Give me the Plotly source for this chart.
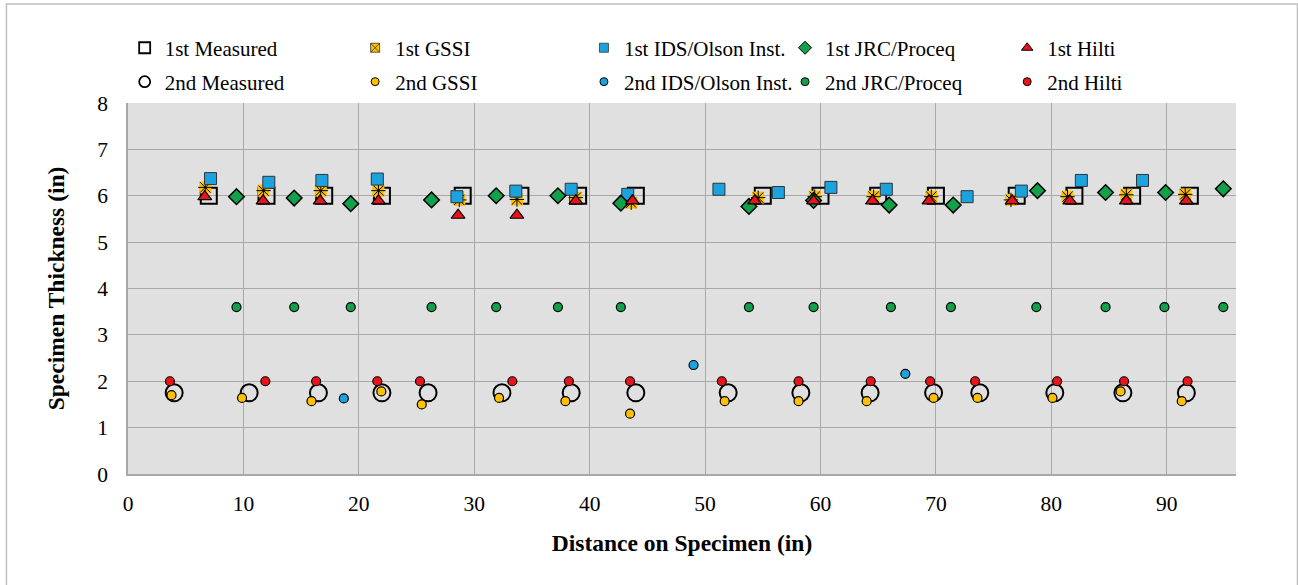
import plotly.graph_objects as go

# 1st pass readings (~6 in) and 2nd pass readings (~1.75 in)
m1_x = [7, 12, 17, 22, 29, 34, 39, 44, 55, 60, 65, 70, 77, 82, 87, 92]
m1_y = [6.0] * 16
m2_x = [4, 10.5, 16.5, 22, 26, 32.4, 38.4, 44, 52, 58.3, 64.3, 69.8, 73.8, 80.3, 86.2, 91.7]
m2_y = [1.75] * 16

g1_x = [6.7, 11.75, 16.7, 21.7, 28.7, 33.7, 38.8, 43.6, 54.6, 59.5, 64.6, 69.6, 76.5, 81.4, 86.5, 91.6]
g1_y = [6.18, 6.11, 6.11, 6.11, 5.91, 5.92, 5.96, 5.85, 5.96, 5.98, 5.98, 5.98, 5.91, 5.98, 6.02, 6.03]
g2_x = [3.77, 9.88, 15.9, 21.95, 25.45, 32.15, 37.9, 43.5, 51.7, 58.1, 64.0, 69.8, 73.6, 80.1, 86.0, 91.3]
g2_y = [1.70, 1.64, 1.57, 1.78, 1.50, 1.64, 1.57, 1.30, 1.57, 1.57, 1.57, 1.64, 1.64, 1.64, 1.78, 1.57]

i1_x = [7.15, 12.2, 16.8, 21.6, 28.5, 33.6, 38.4, 43.3, 51.2, 56.35, 60.9, 65.7, 72.7, 77.4, 82.6, 87.9]
i1_y = [6.37, 6.29, 6.33, 6.36, 5.98, 6.10, 6.14, 6.03, 6.14, 6.07, 6.18, 6.14, 5.98, 6.10, 6.33, 6.33]
i2_x = [18.7, 49.0, 67.35]
i2_y = [1.63, 2.35, 2.16]

j1_x = [9.4, 14.4, 19.3, 26.3, 31.9, 37.25, 42.7, 53.8, 59.4, 65.95, 71.5, 78.8, 84.7, 89.9, 94.9]
j1_y = [5.98, 5.95, 5.83, 5.91, 6.0, 6.0, 5.84, 5.77, 5.9, 5.80, 5.80, 6.11, 6.07, 6.07, 6.15]
j2_x = [9.4, 14.4, 19.3, 26.3, 31.9, 37.25, 42.7, 53.8, 59.4, 66.1, 71.3, 78.7, 84.7, 89.8, 94.9]
j2_y = [3.6] * 15

h1_x = [6.65, 11.7, 16.65, 21.7, 28.6, 33.7, 38.8, 43.7, 54.3, 59.4, 64.5, 69.4, 76.6, 81.6, 86.5, 91.7]
h1_y = [5.98, 5.89, 5.89, 5.89, 5.58, 5.58, 5.89, 5.89, 5.89, 5.89, 5.89, 5.89, 5.89, 5.89, 5.89, 5.89]
h2_x = [3.63, 11.9, 16.3, 21.6, 25.3, 33.3, 38.2, 43.5, 51.45, 58.1, 64.35, 69.5, 73.4, 80.5, 86.3, 91.8]
h2_y = [2.0] * 16

ORANGE = "#FFC000"
BLUE = "#1BA3E0"
GREEN = "#12A04A"
RED = "#E8141C"
FONT = "'Liberation Serif', 'Times New Roman', serif"

fig = go.Figure()

def pts(xs, ys, mk):
    fig.add_trace(go.Scatter(x=xs, y=ys, mode="markers", marker=mk, showlegend=False, hoverinfo="x+y"))

pts(m1_x, m1_y, dict(symbol="square-open", size=16, color="black", line=dict(width=2)))
pts(m2_x, m2_y, dict(symbol="circle-open", size=17, color="black", line=dict(width=2)))
# GSSI 1st: orange square with a black star on top
pts(g1_x, g1_y, dict(symbol="square", size=12, color=ORANGE, line=dict(width=0)))
pts(g1_x, g1_y, dict(symbol="asterisk-open", size=12, color="black", line=dict(width=1, color="black")))
pts(g2_x, g2_y, dict(symbol="circle", size=9, color=ORANGE, line=dict(width=1.2, color="black")))
pts(i1_x, i1_y, dict(symbol="square", size=12, color=BLUE, line=dict(width=1, color="#333333")))
pts(i2_x, i2_y, dict(symbol="circle", size=9, color=BLUE, line=dict(width=1.2, color="black")))
pts(j1_x, j1_y, dict(symbol="diamond", size=12, color=GREEN, line=dict(width=1.5, color="black")))
pts(j2_x, j2_y, dict(symbol="circle", size=9, color=GREEN, line=dict(width=1.2, color="black")))
pts(h1_x, h1_y, dict(symbol="triangle-up", size=12, color=RED, line=dict(width=1.2, color="black")))
pts(h2_x, h2_y, dict(symbol="circle", size=9, color=RED, line=dict(width=1.2, color="black")))

# legend entries (smaller symbols than on the plot, as in the original)
legend_items = [
    ("1st Measured", dict(symbol="square-open", size=11, color="black", line=dict(width=1.8))),
    ("2nd Measured", dict(symbol="circle-open", size=11, color="black", line=dict(width=1.8))),
    ("1st GSSI", dict(symbol="square-x", size=9, color=ORANGE, line=dict(width=0.8, color="#333333"))),
    ("2nd GSSI", dict(symbol="circle", size=8, color=ORANGE, line=dict(width=1, color="black"))),
    ("1st IDS/Olson Inst.", dict(symbol="square", size=9, color=BLUE, line=dict(width=0.8, color="#333333"))),
    ("2nd IDS/Olson Inst.", dict(symbol="circle", size=8, color=BLUE, line=dict(width=1, color="black"))),
    ("1st JRC/Proceq", dict(symbol="diamond", size=10, color=GREEN, line=dict(width=1, color="black"))),
    ("2nd JRC/Proceq", dict(symbol="circle", size=8, color=GREEN, line=dict(width=1, color="black"))),
    ("1st Hilti", dict(symbol="triangle-up", size=10, color=RED, line=dict(width=1, color="black"))),
    ("2nd Hilti", dict(symbol="circle", size=8, color=RED, line=dict(width=1, color="black"))),
]

# one small legend per entry so the grid of entries matches the original layout
col_x = [-0.003, 0.205, 0.4115, 0.593, 0.7935]
row_y = [1.148, 1.0566]
legends = {}
for k, (name, mk) in enumerate(legend_items):
    key = "legend" if k == 0 else f"legend{k + 1}"
    fig.add_trace(go.Scatter(x=[None], y=[None], mode="markers", name=name, marker=mk,
                             legend=key, showlegend=True))
    legends[key] = dict(
        x=col_x[k // 2], y=row_y[k % 2], xanchor="left", yanchor="middle",
        bgcolor="rgba(0,0,0,0)", font=dict(family=FONT, size=21, color="black"),
        borderwidth=0,
    )

fig.update_layout(
    width=1298, height=585,
    margin=dict(l=128, r=62, t=103, b=111),
    paper_bgcolor="white", plot_bgcolor="#E0E0E0",
    font=dict(family=FONT, size=21, color="black"),
    showlegend=True,
    **legends,
)

fig.update_xaxes(
    range=[0, 96], tick0=0, dtick=10, showgrid=True, gridcolor="#A8A8A8", gridwidth=1,
    showline=True, linecolor="#A8A8A8", linewidth=1.5, zeroline=False,
    ticks="", ticklabelstandoff=9, automargin=False,
    tickfont=dict(family=FONT, size=21.5),
    title=dict(text="<b>Distance on Specimen (in)</b>", font=dict(family=FONT, size=23.5), standoff=20),
)
fig.update_yaxes(
    range=[0, 8], tick0=0, dtick=1, showgrid=True, gridcolor="#A8A8A8", gridwidth=1,
    showline=True, linecolor="#A8A8A8", linewidth=1.5, zeroline=False,
    ticks="", ticklabelstandoff=14, automargin=False,
    tickfont=dict(family=FONT, size=21.5),
    title=dict(text="<b>Specimen Thickness (in)</b>", font=dict(family=FONT, size=23.5), standoff=26),
)

# outer chart border
fig.add_shape(type="rect", xref="paper", yref="paper",
              x0=-0.1097, x1=1.0555, y0=-0.32, y1=1.2668,
              line=dict(color="#BFBFBF", width=1.5), fillcolor="rgba(0,0,0,0)", layer="below")

fig.write_html("out.html", config={"displayModeBar": False},
               post_script="document.body.style.margin='0';")
